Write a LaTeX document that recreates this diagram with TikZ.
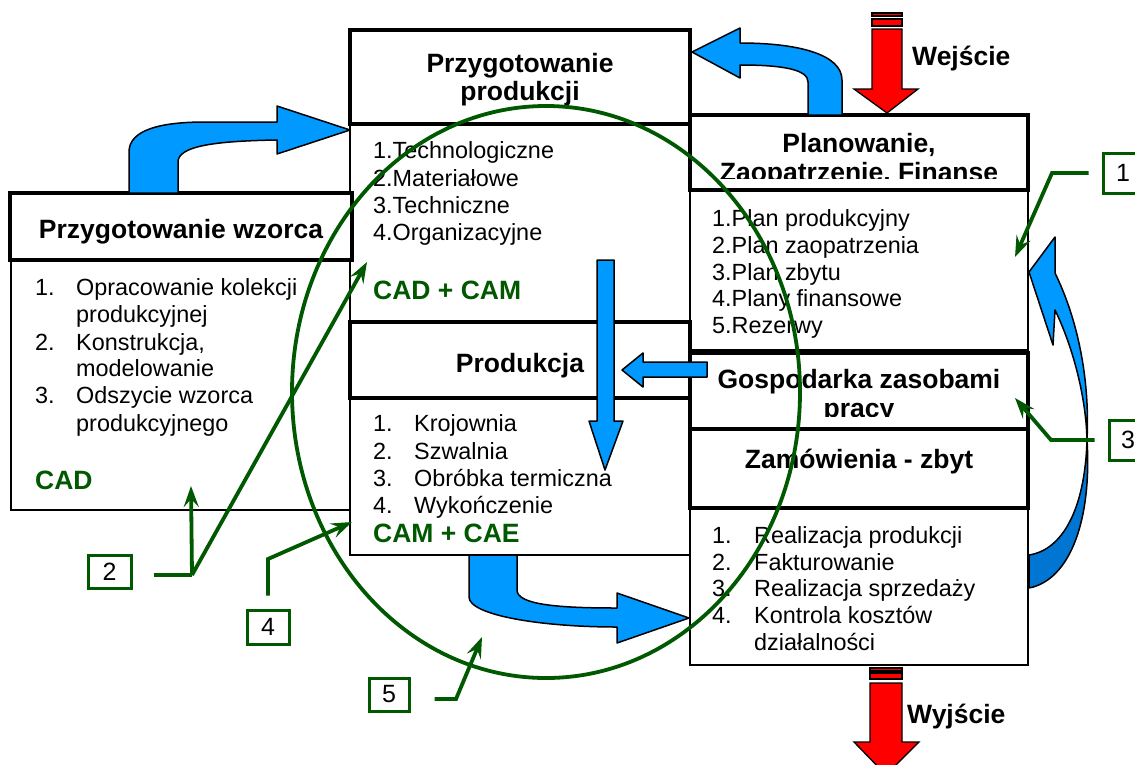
\documentclass[tikz,border=0pt]{standalone}
\usepackage{fontspec}
\setmainfont{Liberation Sans}
\usetikzlibrary{arrows.meta}
\definecolor{cblue}{RGB}{0,153,255}
\definecolor{cdblue}{RGB}{0,118,210}
\definecolor{cgreen}{RGB}{0,88,0}
\definecolor{cred}{RGB}{255,0,0}
\begin{document}
\begin{tikzpicture}[x=1pt,y=-1pt,
 thinbox/.style={draw=black, line width=1.8pt, fill=white, inner sep=0pt},
 thickbox/.style={draw=black, line width=3.3pt, fill=white, inner sep=0pt},
 head/.style={font=\fontsize{26.5}{30}\selectfont\bfseries, inner sep=0pt, anchor=base},
 item/.style={font=\fontsize{23.4}{27}\selectfont, inner sep=0pt, anchor=base west},
 tool/.style={font=\fontsize{26.5}{30}\selectfont\bfseries, text=cgreen, inner sep=0pt, anchor=base west},
 label/.style={font=\fontsize{26.5}{30}\selectfont\bfseries, inner sep=0pt, anchor=base west},
 barrow/.style={fill=cblue, draw=black, line width=1.5pt, line join=round},
 darrow/.style={fill=cdblue, draw=black, line width=1.5pt, line join=round},
 rarrow/.style={fill=cred, draw=black, line width=1.3pt},
 callout/.style={draw=cgreen, line width=3pt, fill=white, font=\fontsize{25}{29}\selectfont, inner sep=0pt},
 gline/.style={draw=cgreen, line width=3.8pt},
 garrow/.style={gline, -{Stealth[length=21pt,width=15pt,inset=8pt]}},
]
\useasboundingbox[fill=white] (0,0) rectangle (1135,764);

% ---- body boxes (thin) ----
\node[thinbox, minimum width=340pt, minimum height=250pt] (wzB) at (181,385) {};
\node[thinbox, minimum width=340pt, minimum height=198pt] (ppB) at (520,223) {};
\node[thinbox, minimum width=340pt, minimum height=157pt] (prB) at (520,476.5) {};
\node[thinbox, minimum width=338pt, minimum height=160pt] (plB) at (859,270) {};
\node[thinbox, minimum width=338pt, minimum height=157pt] (zaB) at (859,586.5) {};

% ---- header boxes (thick) ----
\node[thickbox, minimum width=342pt, minimum height=67pt] (wzH) at (181,226.5) {};
\node[thickbox, minimum width=340pt, minimum height=94pt] (ppH) at (520,77) {};
\node[thickbox, minimum width=340pt, minimum height=76pt] (prH) at (520,360) {};
\node[thickbox, minimum width=338pt, minimum height=75pt] (plH) at (859,152.5) {};
\node[thickbox, minimum width=338pt, minimum height=76pt] (goH) at (859,391) {};
\node[thickbox, minimum width=338pt, minimum height=79pt] (zaH) at (859,468.5) {};

% ---- headings ----
\node[head] (wzT) at (181,238) {Przygotowanie wzorca};
\node[head] (ppT1) at (520,72) {Przygotowanie};
\node[head] (ppT2) at (520,100) {produkcji};
\node[head] (prT) at (520,372) {Produkcja};
\node[head] (plT1) at (859,152) {Planowanie,};
\begin{scope}
\clip (692,117) rectangle (1026,178);
\node[head] (plT2) at (859,181) {Zaopatrzenie, Finanse};
\end{scope}
\node[head] (goT1) at (859,388) {Gospodarka zasobami};
\begin{scope}
\clip (692,354) rectangle (1026,416);
\node[head] (goT2) at (859,417) {pracy};
\end{scope}
\node[head] (zaT) at (859,468) {Zamówienia - zbyt};

% ---- Przygotowanie wzorca items ----
\node[item] (wn1) at (35,295) {1.};
\node[item] (wi1) at (76,295) {Opracowanie kolekcji};
\node[item] (wi1b) at (76,322) {produkcyjnej};
\node[item] (wn2) at (35,350) {2.};
\node[item] (wi2) at (76,350) {Konstrukcja,};
\node[item] (wi2b) at (76,376) {modelowanie};
\node[item] (wn3) at (35,403) {3.};
\node[item] (wi3) at (76,403) {Odszycie wzorca};
\node[item] (wi3b) at (76,431) {produkcyjnego};
\node[tool] (wcad) at (35,489) {CAD};

% ---- Przygotowanie produkcji items ----
\node[item] (pi1) at (373,158) {1.Technologiczne};
\node[item] (pi2) at (373,186) {2.Materiałowe};
\node[item] (pi3) at (373,213) {3.Techniczne};
\node[item] (pi4) at (373,240) {4.Organizacyjne};
\node[tool] (pcad) at (373,299) {CAD + CAM};

% ---- Produkcja items ----
\node[item] (rn1) at (373,431) {1.};
\node[item] (ri1) at (414,431) {Krojownia};
\node[item] (rn2) at (373,459) {2.};
\node[item] (ri2) at (414,459) {Szwalnia};
\node[item] (rn3) at (373,486) {3.};
\node[item] (ri3) at (414,486) {Obróbka termiczna};
\node[item] (rn4) at (373,513) {4.};
\node[item] (ri4) at (414,513) {Wykończenie};
\node[tool] (rcam) at (373,542) {CAM + CAE};

% ---- Planowanie items ----
\node[item] (li1) at (712,226) {1.Plan produkcyjny};
\node[item] (li2) at (712,253) {2.Plan zaopatrzenia};
\node[item] (li3) at (712,280) {3.Plan zbytu};
\node[item] (li4) at (712,306) {4.Plany finansowe};
\node[item] (li5) at (712,333) {5.Rezerwy};

% ---- Zamowienia items ----
\node[item] (zn1) at (712,543) {1.};
\node[item] (zi1) at (754,543) {Realizacja produkcji};
\node[item] (zn2) at (712,570) {2.};
\node[item] (zi2) at (754,570) {Fakturowanie};
\node[item] (zn3) at (712,596) {3.};
\node[item] (zi3) at (754,596) {Realizacja sprzedaży};
\node[item] (zn4) at (712,623) {4.};
\node[item] (zi4) at (754,623) {Kontrola kosztów};
\node[item] (zi4b) at (754,650) {działalności};

% ---- blue arrows ----
\filldraw[barrow] (129,193) -- (129,152) .. controls (129,130) and (160,122) .. (205,122) -- (277,122) -- (277,106) -- (350,130) -- (277,154) -- (277,140) .. controls (215,141) and (178,146) .. (178,162) -- (178,193) -- cycle;
\filldraw[barrow] (808,115) -- (808,82) .. controls (808,70) and (785,65) .. (740,65) -- (740,78) -- (692,52) -- (740,28) -- (740,43) .. controls (800,43) and (842,55) .. (842,80) -- (842,115) -- cycle;
\filldraw[barrow] (597,260) -- (597,421) -- (589,421) -- (605,470) -- (623,421) -- (614,421) -- (614,260) -- cycle;
\filldraw[barrow] (707,362) -- (643,362) -- (643,353) -- (622,370) -- (643,387) -- (643,377) -- (707,377) -- cycle;
\filldraw[barrow] (469,555) -- (469,597) .. controls (469,615) and (540,627) .. (617,627) -- (617,643) -- (689,618) -- (617,593) -- (617,608) .. controls (560,608) and (517,605) .. (517,590) -- (517,555) -- cycle;
\filldraw[darrow] (1029,555) .. controls (1062,550) and (1085,510) .. (1087,440) .. controls (1092,520) and (1070,580) .. (1029,588) -- cycle;
\filldraw[barrow] (1055,310) .. controls (1072,345) and (1086,395) .. (1087,440) .. controls (1090,380) and (1078,320) .. (1055,273) -- (1055,237) -- (1029,272) -- (1053,345) -- cycle;

% ---- red arrows ----
\filldraw[rarrow] (872,13) rectangle (902,16);
\filldraw[rarrow] (872,19) rectangle (902,26);
\filldraw[rarrow] (872,29) -- (872,89) -- (854,89) -- (887,113) -- (918,89) -- (902,89) -- (902,29) -- cycle;
\node[label] (wej) at (912,65) {Wejście};
\filldraw[rarrow] (870,668) rectangle (902,671);
\filldraw[rarrow] (870,673) rectangle (902,679);
\filldraw[rarrow] (870,683) -- (870,742) -- (854,742) -- (886,775) -- (919,742) -- (902,742) -- (902,683) -- cycle;
\node[label] (wyj) at (907,723) {Wyjście};

% ---- green ellipse ----
\draw[cgreen, line width=3.8pt] (546,392) ellipse [x radius=254pt, y radius=286pt];

% ---- callouts ----
\node[callout, minimum width=40pt, minimum height=40pt] (c1) at (1123,173) {1};
\node[callout, minimum width=38pt, minimum height=40pt] (c3) at (1128,440) {3};
\node[callout, minimum width=43pt, minimum height=33pt] (c2) at (109.5,571.5) {2};
\node[callout, minimum width=42pt, minimum height=34pt] (c4) at (268,627) {4};
\node[callout, minimum width=40pt, minimum height=33pt] (c5) at (389,694.5) {5};

\draw[garrow] ([xshift=-13pt]c1.west) -- (1052,173) -- (1015,257);
\draw[garrow] ([xshift=-13pt]c3.west) -- (1051,440) -- (1015,398);
\coordinate (k2) at (192,575);
\draw[gline] ([xshift=21pt,yshift=-3.5pt]c2.east) -- (k2);
\draw[garrow] (k2) -- (191,486);
\draw[garrow] (k2) -- (367,262);
\draw[garrow] ([yshift=13pt]c4.north) -- (268,559) -- (352,522);
\draw[garrow] ([xshift=24pt,yshift=-4.5pt]c5.east) -- (456,699) -- (482,637);
\end{tikzpicture}
\end{document}
